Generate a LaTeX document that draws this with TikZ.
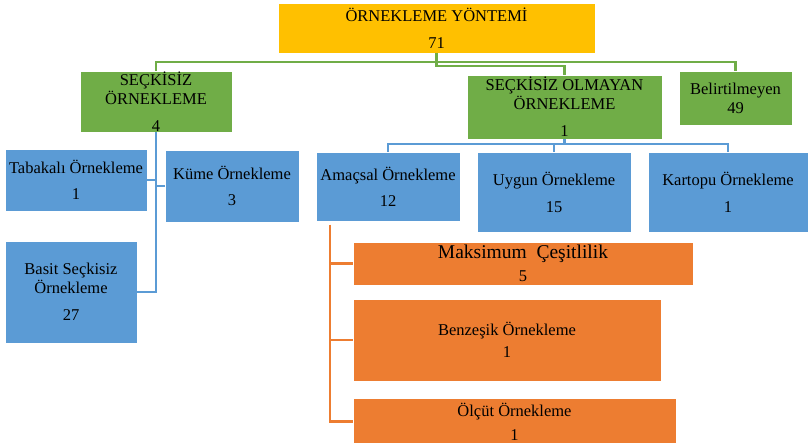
\documentclass[tikz,border=0pt]{standalone}
\usepackage{fontspec}
\setmainfont{Liberation Serif}
\usetikzlibrary{positioning}

\definecolor{sari}{HTML}{FFC000}
\definecolor{yesil}{HTML}{70AD47}
\definecolor{mavi}{HTML}{5B9BD5}
\definecolor{turuncu}{HTML}{ED7D31}

\begin{document}
\begin{tikzpicture}[
x=1pt, y=-1pt,
every node/.style={
inner sep=0pt,
outer sep=0pt,
align=center,
font=\fontsize{16.5}{19}\selectfont
},
kutu/.style={
fill=#1,
draw=white,
line width=0.6pt
},
gline/.style={yesil, line width=2.2pt},
bline/.style={mavi, line width=2.2pt},
oline/.style={turuncu, line width=2.2pt}
]

\useasboundingbox (0,0) rectangle (808,443);

\node[kutu=sari, minimum width=317pt, minimum height=50pt] (Y) at (436.5,28)
{ÖRNEKLEME YÖNTEMİ\\[8pt]71};

\node[kutu=yesil, minimum width=152pt, minimum height=61pt] (S) at (156,101.5)
{SEÇKİSİZ\\ÖRNEKLEME\\[8pt]4};

\node[kutu=yesil, minimum width=195pt, minimum height=64pt] (SO) at (564.5,107)
{SEÇKİSİZ OLMAYAN\\ÖRNEKLEME\\[8pt]1};

\node[kutu=yesil, minimum width=113pt, minimum height=54pt] (B) at (735.5,98)
{Belirtilmeyen\\49};

\node[kutu=mavi, minimum width=142pt, minimum height=62pt] (T) at (76,180)
{Tabakalı Örnekleme\\[7pt]1};

\node[kutu=mavi, minimum width=134pt, minimum height=72pt] (K) at (232,186)
{Küme Örnekleme\\[7pt]3};

\node[kutu=mavi, minimum width=132pt, minimum height=102pt] (BS) at (71,292)
{Basit Seçkisiz\\Örnekleme\\[8pt]27};

\node[kutu=mavi, minimum width=144pt, minimum height=69pt] (A) at (388,186.5)
{Amaçsal Örnekleme\\[7pt]12};

\node[kutu=mavi, minimum width=154pt, minimum height=80pt] (U) at (554,192)
{Uygun Örnekleme\\[8pt]15};

\node[kutu=mavi, minimum width=160pt, minimum height=80pt] (KT) at (728,192)
{Kartopu Örnekleme\\[8pt]1};

\node[kutu=turuncu, minimum width=340pt, minimum height=43pt] (MC) at (523,263.5)
{{\fontsize{19.5}{23}\selectfont Maksimum\ \ Çeşitlilik}\\[4pt]5};

\node[kutu=turuncu, minimum width=308pt, minimum height=82pt] (BO) at (507,340)
{Benzeşik Örnekleme\\[3pt]1};

\node[kutu=turuncu, minimum width=323pt, minimum height=47pt] (OO) at (514.5,421.5)
{\raisebox{0pt}{Ölçüt Örnekleme}\\[5pt]1};

% yesil baglar
\draw[gline] (Y.south) -- ++(0,9) coordinate (g1);
\draw[gline] (g1) -| (S.north);
\draw[gline] (g1) -| (B.north);
\draw[gline] (Y.south) -- ++(0,13) -| (SO.north);

% mavi baglar
\draw[bline] (S.south) |- (BS.east);
\draw[bline] (T.east) -- (T.east -| S.south);
\draw[bline] (K.west) -- (K.west -| S.south);
\draw[bline] (SO.south) -- ++(0,5) coordinate (b1);
\draw[bline] (b1) -| (A.north);
\draw[bline] (b1) -| (U.north);
\draw[bline] (b1) -| (KT.north);

% turuncu baglar
\coordinate (o1) at ([xshift=14pt,yshift=-4pt]A.south west);
\draw[oline] (o1) |- (MC.west);
\draw[oline] (o1) |- (BO.west);
\draw[oline] (o1) |- (OO.west);

\end{tikzpicture}
\end{document}
